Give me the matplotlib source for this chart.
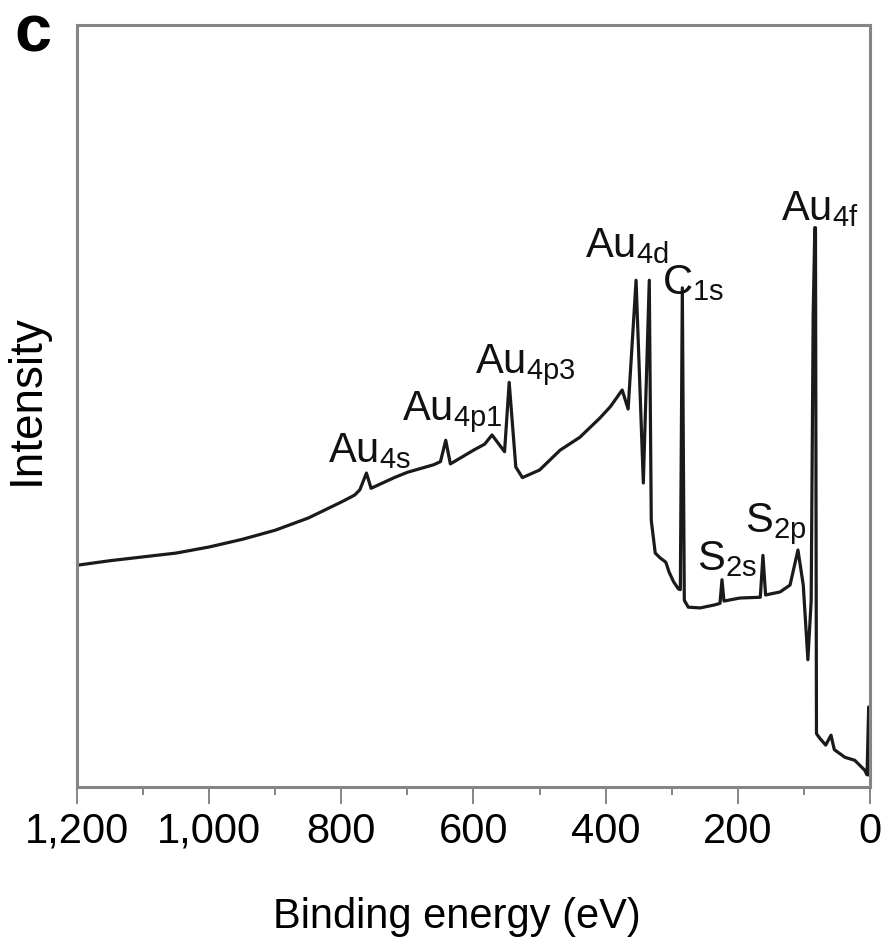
import matplotlib
matplotlib.use('Agg')
import matplotlib.pyplot as plt
from matplotlib.ticker import MultipleLocator, FuncFormatter

plt.rcParams['font.family'] = ['Liberation Sans', 'DejaVu Sans']
plt.rcParams['mathtext.fontset'] = 'custom'
plt.rcParams['mathtext.rm'] = 'Liberation Sans'
plt.rcParams['mathtext.default'] = 'regular'

# XPS survey spectrum (binding energy in eV, intensity a.u.)
energy = [1200, 1150, 1100, 1050, 1000, 950, 900, 850, 800, 780, 772, 762, 755,
          720, 700, 660, 650, 642, 635, 600, 583, 572, 553, 546, 536, 526, 500,
          469, 439, 409, 393, 375, 366, 354, 343, 334, 331, 325, 318, 309, 304,
          297, 290, 287, 284, 281, 275, 257, 235, 227, 224, 221, 197, 166, 162,
          158, 136, 121, 109, 101, 94, 89, 86, 83.5, 82.5, 81, 76, 67, 59, 54,
          38, 23, 8, 4.5, 2, 1]
intensity = [29.1, 29.7, 30.2, 30.7, 31.5, 32.5, 33.7, 35.3, 37.4, 38.3, 39.0, 41.2, 39.2,
             40.6, 41.3, 42.3, 42.7, 45.5, 42.4, 44.2, 45.0, 46.2, 44.0, 53.1, 42.0, 40.6, 41.6,
             44.2, 45.9, 48.4, 49.9, 52.1, 49.6, 66.5, 39.9, 66.5, 35.0, 30.7, 30.1, 29.5, 28.2,
             26.9, 26.0, 25.9, 65.5, 24.5, 23.6, 23.5, 23.9, 24.1, 27.2, 24.4, 24.8, 24.9, 30.4,
             25.2, 25.6, 26.5, 31.1, 26.5, 16.7, 24.5, 62.0, 73.4, 73.4, 7.0, 6.4, 5.5, 6.8, 4.9,
             3.9, 3.5, 2.2, 1.6, 10.5, 1.6]

# peak labels, placed by the left end of the baseline
peak_names = ['Au$_{4s}$', 'Au$_{4p1}$', 'Au$_{4p3}$', 'Au$_{4d}$', 'C$_{1s}$',
              'S$_{2s}$', 'S$_{2p}$', 'Au$_{4f}$']
label_x = [820, 708, 598, 431, 315, 262, 189, 134]
label_y = [42.6, 48.2, 54.3, 69.6, 64.7, 28.5, 33.5, 74.4]

xticks = [1200, 1000, 800, 600, 400, 200, 0]

gray = '#858585'

fig = plt.figure(figsize=(8.83, 9.51), dpi=100)
ax = fig.add_axes([77/883, 1 - 787/951, 793/883, 762/951])

ax.plot(energy, intensity, color='#1a1a1a', lw=2.3, solid_joinstyle='round')

for name, x, y in zip(peak_names, label_x, label_y):
    ax.text(x, y, name, fontsize=30, ha='left', va='baseline', color='#111111')

ax.set_xlim(1200, 0)
ax.set_ylim(0, 100)
ax.set_xticks(xticks)
ax.xaxis.set_minor_locator(MultipleLocator(100))
ax.xaxis.set_major_formatter(FuncFormatter(lambda v, p: '{:,}'.format(int(v))))
ax.set_yticks([])

for sp in ax.spines.values():
    sp.set_color(gray)
    sp.set_linewidth(2.2)

ax.tick_params(axis='x', which='major', direction='out', length=12, width=1.4,
               color=gray, labelsize=30, pad=6)
ax.tick_params(axis='x', which='minor', direction='out', length=6, width=1.4, color=gray)

ax.set_xlabel('Binding energy (eV)', fontsize=30)
ax.xaxis.set_label_coords(0.479, -0.145)
ax.set_ylabel('Intensity', fontsize=33)
ax.yaxis.set_label_coords(-0.036, 0.508)

fig.text(14/883, 1 - 52/951, 'c', fontsize=48, fontweight='bold')

fig.savefig('out.png', dpi=100)
